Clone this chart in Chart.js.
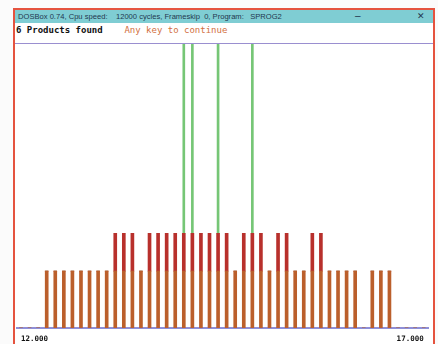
<!DOCTYPE html>
<html>
<head>
<meta charset="utf-8">
<script src="https://cdn.jsdelivr.net/npm/chart.js@4.4.0/dist/chart.umd.min.js"></script>
<style>
  body { margin: 0; background: #fbfbfb; width: 438px; height: 344px; overflow: hidden; position: relative; }
  #frame { position: absolute; left: 13px; top: 8px; width: 418px; height: 345px; border: 2px solid #e5533f; background: #fff; }
  #titlebar { position: absolute; left: 0; top: 0; width: 418px; height: 13px; background: #7fcdd3;
    font: 7.6px "Liberation Sans", sans-serif; color: #23384f; line-height: 13px; white-space: pre; }
  #titlebar .t { position: absolute; left: 3px; }
  #titlebar .min { position: absolute; left: 340px; top: -1px; font-size: 10px; }
  #titlebar .cls { position: absolute; left: 402px; font-size: 9px; }
  #status { position: absolute; left: 1px; top: 15px; font: 9px "DejaVu Sans Mono", monospace; white-space: pre; }
  #status b { color: #111; }
  #status span { color: #d2703f; }
  #rule { position: absolute; left: 0; top: 33px; width: 418px; height: 1px; background: #9a8fd0; }
  #wrap { position: absolute; left: -1px; top: 34px; width: 418px; height: 307px; }
</style>
</head>
<body>
<div id="frame">
  <div id="titlebar"><span class="t">DOSBox 0.74, Cpu speed:    12000 cycles, Frameskip  0, Program:   SPROG2</span><span class="min">–</span><span class="cls">✕</span></div>
  <div id="status"><b>6 Products found</b>    <span>Any key to continue</span></div>
  <div id="rule"></div>
  <div id="wrap"><canvas id="myChart"></canvas></div>
</div>
<script>
// 48 bins across 12.000 .. 17.000
const bins = [
  "12.000", "12.104", "12.208", "12.313", "12.417", "12.521", "12.625", "12.729",
  "12.833", "12.938", "13.042", "13.146", "13.250", "13.354", "13.458", "13.563",
  "13.667", "13.771", "13.875", "13.979", "14.083", "14.188", "14.292", "14.396",
  "14.500", "14.604", "14.708", "14.813", "14.917", "15.021", "15.125", "15.229",
  "15.333", "15.438", "15.542", "15.646", "15.750", "15.854", "15.958", "16.063",
  "16.167", "16.271", "16.375", "16.479", "16.583", "16.688", "16.792", "17.000"
];
const tickLabels = ["12.000", "17.000"];
// orange base level
const baseCounts = [
  0, 0, 0, 3, 3, 3, 3, 3, 3, 3, 3, 3, 3, 3, 3, 3,
  3, 3, 3, 3, 3, 3, 3, 3, 3, 3, 3, 3, 3, 3, 3, 3,
  3, 3, 3, 3, 3, 3, 3, 3, 0, 3, 3, 3, 0, 0, 0, 0
];
// red part on top of base
const midCounts = [
  0, 0, 0, 0, 0, 0, 0, 0, 0, 0, 0, 2, 2, 2, 0, 2,
  2, 2, 2, 2, 2, 2, 2, 2, 2, 0, 2, 2, 2, 0, 2, 2,
  0, 0, 2, 2, 0, 0, 0, 0, 0, 0, 0, 0, 0, 0, 0, 0
];
// green peaks
const peakCounts = [
  0, 0, 0, 0, 0, 0, 0, 0, 0, 0, 0, 0, 0, 0, 0, 0,
  0, 0, 0, 10, 10, 0, 0, 10, 0, 0, 0, 10, 0, 0, 0, 0,
  0, 0, 0, 0, 0, 0, 0, 0, 0, 0, 0, 0, 0, 0, 0, 0
];

const ctx = document.getElementById("myChart");
new Chart(ctx, {
  type: "bar",
  data: {
    labels: bins,
    datasets: [
      { label: "base", data: baseCounts, backgroundColor: "#bb5f2c", barThickness: 3 },
      { label: "mid", data: midCounts, backgroundColor: "#b8302c", barThickness: 3 },
      { label: "peak", data: peakCounts, backgroundColor: "#76c676", barThickness: 2 },
    ],
  },
  options: {
    responsive: true,
    maintainAspectRatio: false,
    animation: false,
    layout: { padding: { left: 0, right: 4 } },
    plugins: { legend: { display: false }, tooltip: { enabled: false } },
    scales: {
      x: {
        stacked: true,
        grid: { display: false, drawTicks: false },
        border: { display: true, color: "#8f8fd8", width: 2 },
        ticks: {
          autoSkip: false,
          maxRotation: 0,
          align: "inner",
          padding: 7,
          color: "#111",
          font: { family: "DejaVu Sans Mono", size: 7.5, weight: "bold" },
          callback: (v, i) => (i === 0 ? tickLabels[0] : i === bins.length - 1 ? tickLabels[1] : ""),
        },
      },
      y: { stacked: true, display: false, min: 0, max: 15 },
    },
  },
});
</script>
</body>
</html>
